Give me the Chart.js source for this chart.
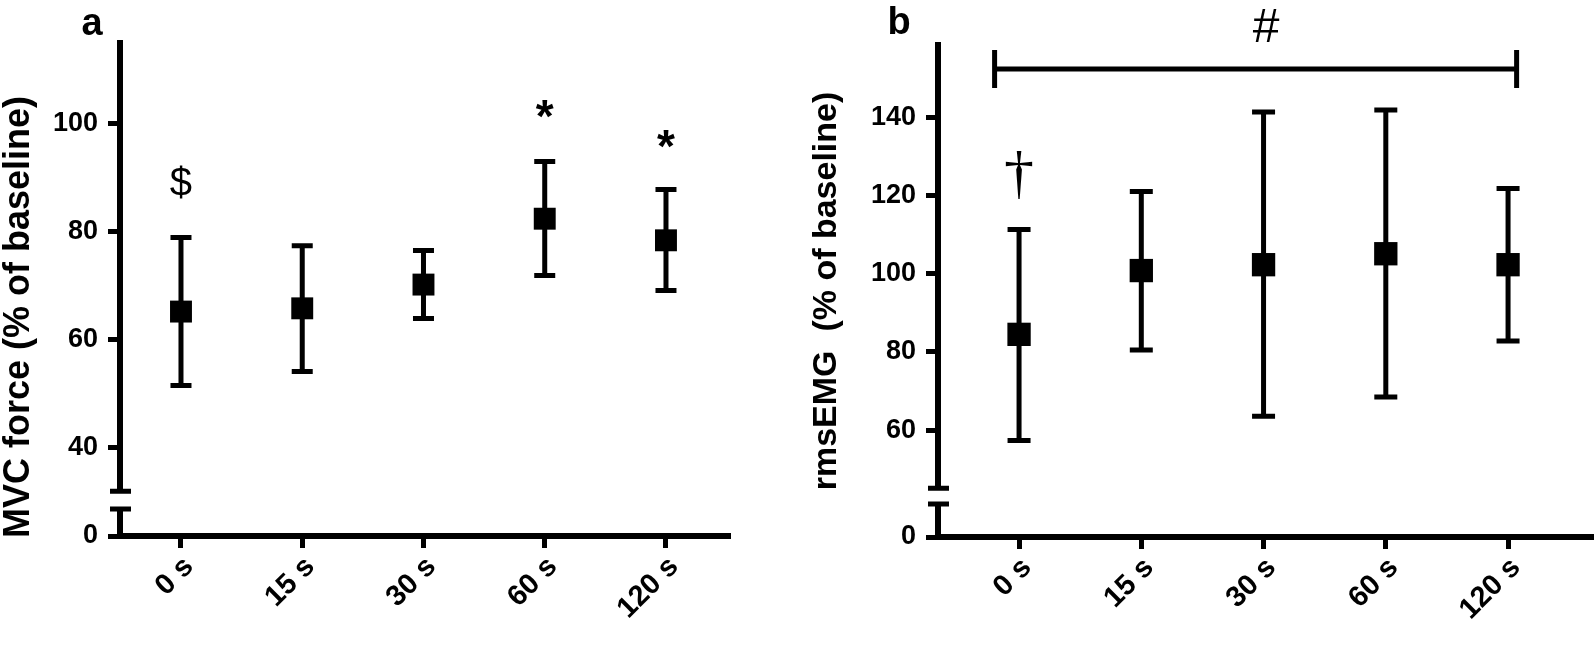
<!DOCTYPE html>
<html>
<head>
<meta charset="utf-8">
<script src="https://cdn.jsdelivr.net/npm/chart.js@4.4.0/dist/chart.umd.min.js"></script>
<style>
  html, body { margin: 0; padding: 0; background: #fff; overflow: hidden; }
  #wrap { position: relative; width: 1594px; height: 653px; }
  .panel { position: absolute; top: 0; height: 653px; }
  #panelA { left: 0; width: 790px; }
  #panelB { left: 790px; width: 804px; }
  canvas { display: block; }
</style>
</head>
<body>
<div id="wrap">
  <div class="panel" id="panelA"><canvas id="chartA"></canvas></div>
  <div class="panel" id="panelB"><canvas id="chartB"></canvas></div>
</div>
<script>
const categories = ['0 s', '15 s', '30 s', '60 s', '120 s'];

// panel a - MVC force (% of baseline)
const mvcMean = [65.2, 65.8, 70.2, 82.4, 78.4];
const mvcUpper = [78.9, 77.4, 76.5, 93.0, 87.8];
const mvcLower = [51.5, 54.1, 63.9, 71.9, 69.1];
const mvcTicks = [40, 60, 80, 100];
const mvcMarks = [
    { i: 0, y: 88.7, text: '$' },
    { i: 3, y: 102.2, text: '*' },
    { i: 4, y: 96.7, text: '*' }
];

// panel b - rmsEMG (% of baseline)
const emgMean = [84.5, 100.8, 102.3, 105.1, 102.3];
const emgUpper = [111.3, 121.0, 141.3, 141.8, 121.8];
const emgLower = [57.4, 80.5, 63.6, 68.5, 82.8];
const emgTicks = [60, 80, 100, 120, 140];
const emgMarks = [
    { i: 0, y: 125, text: '\u2020' }
];
const emgBracket = { from: -0.2, to: 4.07, y: 152.3, text: '#', textX: 2.02, textY: 162.7 };

const FONT = '"Liberation Sans", Arial, sans-serif';

const makeChart = (id, p) => {
    const ctx = document.getElementById(id).getContext('2d');

    const overlay = {
        id: 'overlay',
        beforeDatasetsDraw(chart) {
            const c = chart.ctx;
            const xs = chart.scales.x, ys = chart.scales.yHigh, yl = chart.scales.yLow;
            const ax = chart.chartArea.left;
            c.save();
            c.strokeStyle = '#000';
            // broken y axis, two segments with short caps at the break
            const topY = ys.getPixelForValue(ys.max);
            const brkHi = ys.getPixelForValue(p.breakHigh);
            const brkLo = yl.getPixelForValue(p.breakLow);
            const zero = yl.getPixelForValue(0);
            c.lineWidth = 6;
            c.beginPath();
            c.moveTo(ax, topY); c.lineTo(ax, brkHi);
            c.moveTo(ax, brkLo); c.lineTo(ax, zero);
            c.stroke();
            c.lineWidth = 5;
            c.beginPath();
            c.moveTo(ax - 10, brkHi); c.lineTo(ax + 11, brkHi);
            c.moveTo(ax - 10, brkLo); c.lineTo(ax + 11, brkLo);
            c.stroke();
            // error bars
            c.lineWidth = 5;
            p.upper.forEach((u, i) => {
                const x = xs.getPixelForValue(i);
                const yt = ys.getPixelForValue(u);
                const yb = ys.getPixelForValue(p.lower[i]);
                c.beginPath();
                c.moveTo(x, yt); c.lineTo(x, yb);
                c.moveTo(x - p.cap, yt); c.lineTo(x + p.cap, yt);
                c.moveTo(x - p.cap, yb); c.lineTo(x + p.cap, yb);
                c.stroke();
            });
            c.restore();
        },
        afterDraw(chart) {
            const c = chart.ctx;
            const xs = chart.scales.x, ys = chart.scales.yHigh;
            c.save();
            c.fillStyle = '#000';
            c.strokeStyle = '#000';
            c.textAlign = 'center';
            c.textBaseline = 'middle';

            // significance marks
            p.marks.forEach(m => {
                c.font = m.text === '*' ? 'bold 46px ' + FONT
                    : m.text === '\u2020' ? '60px "Liberation Serif", serif'
                    : '40px ' + FONT;
                const dy = m.text === '*' ? 8 : 0;
                c.fillText(m.text, xs.getPixelForValue(m.i), ys.getPixelForValue(m.y) + dy);
            });

            if (p.bracket) {
                const b = p.bracket;
                const x1 = xs.getPixelForValue(b.from), x2 = xs.getPixelForValue(b.to);
                const y = ys.getPixelForValue(b.y);
                c.lineWidth = 5;
                c.beginPath();
                c.moveTo(x1, y); c.lineTo(x2, y);
                c.moveTo(x1, y - 19); c.lineTo(x1, y + 19);
                c.moveTo(x2, y - 19); c.lineTo(x2, y + 19);
                c.stroke();
                c.font = '48px ' + FONT;
                c.fillText(b.text, xs.getPixelForValue(b.textX), ys.getPixelForValue(b.textY));
            }

            // panel letter
            c.font = 'bold 38px ' + FONT;
            c.fillText(p.letter, p.letterPos[0], p.letterPos[1]);

            // y axis title
            c.font = 'bold ' + p.titleSize + 'px ' + FONT;
            c.translate(p.titlePos[0], p.titlePos[1]);
            c.rotate(-Math.PI / 2);
            c.fillText(p.title, 0, 0);
            c.restore();
        }
    };

    const tickFont = { family: FONT, size: 27, weight: 'bold' };

    return new Chart(ctx, {
        type: 'scatter',
        data: {
            datasets: [{
                data: p.mean.map((m, i) => ({ x: i, y: m })),
                yAxisID: 'yHigh',
                pointStyle: 'rect',
                pointRadius: p.radius,
                pointHoverRadius: p.radius,
                backgroundColor: '#000',
                borderWidth: 0
            }]
        },
        options: {
            responsive: true,
            maintainAspectRatio: false,
            animation: false,
            layout: { autoPadding: false, padding: { top: p.top, right: p.right, left: 0, bottom: 0 } },
            plugins: {
                legend: { display: false },
                tooltip: { enabled: false }
            },
            scales: {
                x: {
                    type: 'linear',
                    min: p.xMin,
                    max: p.xMax,
                    afterBuildTicks: s => { s.ticks = categories.map((_, i) => ({ value: i })); },
                    afterFit: s => { s.height = p.xHeight; s.paddingLeft = 0; s.paddingRight = 0; },
                    ticks: {
                        callback: v => categories[v],
                        minRotation: 45,
                        maxRotation: 45,
                        color: '#000',
                        font: { family: FONT, size: 29, weight: 'bold' },
                        padding: 2,
                        labelOffset: 8
                    },
                    grid: { drawOnChartArea: false, tickLength: 12, tickWidth: 5, tickColor: '#000' },
                    border: { display: true, width: 6, color: '#000' }
                },
                yLow: {
                    type: 'linear',
                    position: 'left',
                    stack: 'y',
                    stackWeight: p.lowWeight,
                    weight: 1,
                    min: 0,
                    max: p.lowMax,
                    afterBuildTicks: s => { s.ticks = [{ value: 0 }]; },
                    afterFit: s => { s.width = p.yWidth; },
                    ticks: { color: '#000', font: tickFont, padding: 10 },
                    grid: { drawOnChartArea: false, tickLength: 12, tickWidth: 5, tickColor: '#000' },
                    border: { display: false }
                },
                yHigh: {
                    type: 'linear',
                    position: 'left',
                    stack: 'y',
                    stackWeight: p.highWeight,
                    weight: 2,
                    min: p.yMin,
                    max: p.yMax,
                    afterBuildTicks: s => { s.ticks = p.ticks.map(v => ({ value: v })); },
                    afterFit: s => { s.width = p.yWidth; },
                    ticks: { color: '#000', font: tickFont, padding: 10 },
                    grid: { drawOnChartArea: false, tickLength: 12, tickWidth: 5, tickColor: '#000' },
                    border: { display: false }
                }
            }
        },
        plugins: [overlay]
    });
};

makeChart('chartA', {
    mean: mvcMean, upper: mvcUpper, lower: mvcLower, ticks: mvcTicks, marks: mvcMarks,
    title: 'MVC force (% of baseline)', titlePos: [19, 317], titleSize: 36,
    letter: 'a', letterPos: [92, 25],
    xMin: -0.503, xMax: 4.528, yMin: 30.3, yMax: 115.5, lowMax: 6.67,
    breakHigh: 31.9, breakLow: 5, highWeight: 460, lowWeight: 36,
    top: 40, right: 60, yWidth: 120, xHeight: 117, radius: 15.5, cap: 10.5
});

makeChart('chartB', {
    mean: emgMean, upper: emgUpper, lower: emgLower, ticks: emgTicks, marks: emgMarks,
    bracket: emgBracket,
    title: 'rmsEMG  (% of baseline)', titlePos: [37, 291], titleSize: 34,
    letter: 'b', letterPos: [109, 24],
    xMin: -0.663, xMax: 4.703, yMin: 43.2, yMax: 159.2, lowMax: 10.48,
    breakHigh: 45.2, breakLow: 8.43, highWeight: 454, lowWeight: 41,
    top: 42, right: 0, yWidth: 148, xHeight: 116, radius: 16.5, cap: 11.5
});
</script>
</body>
</html>
